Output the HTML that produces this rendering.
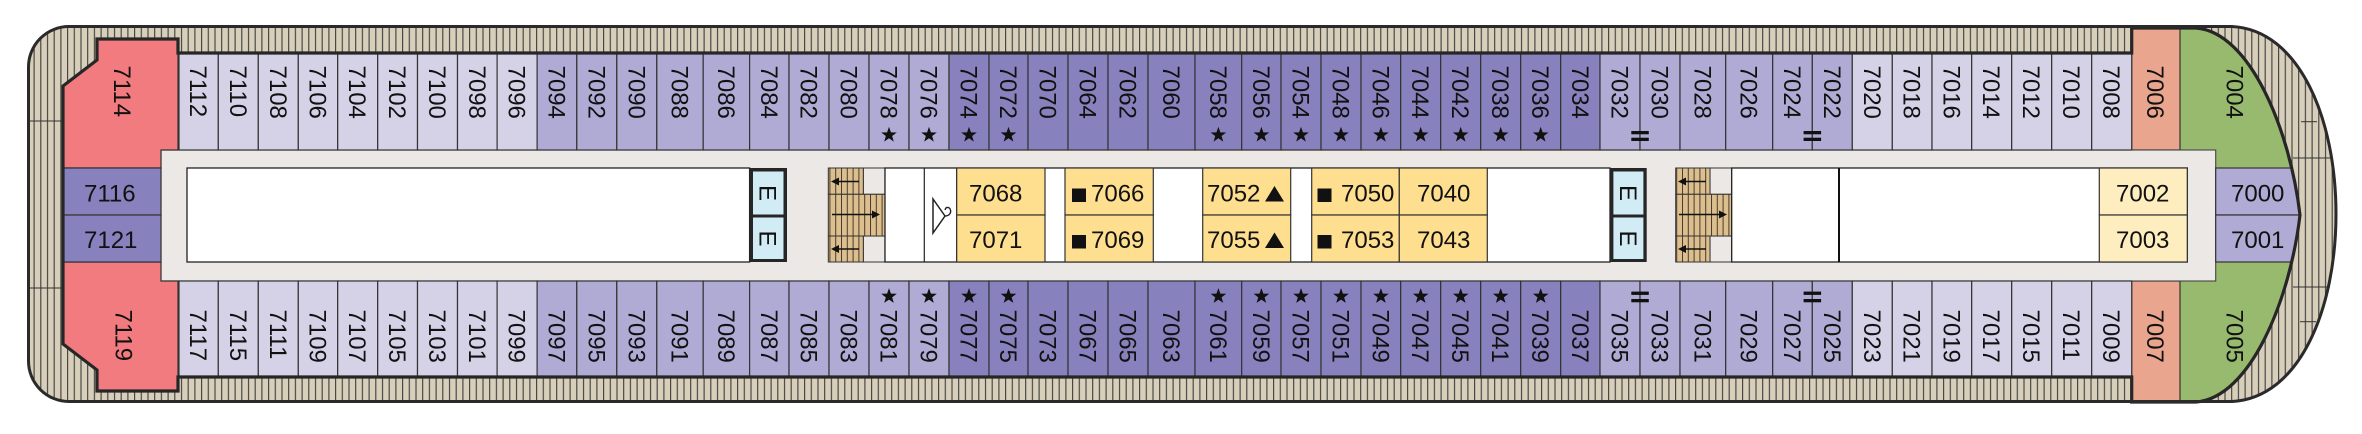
<!DOCTYPE html>
<html><head><meta charset="utf-8"><style>
html,body{margin:0;padding:0;background:#fff;}
svg{display:block;}
text{font-family:"Liberation Sans",Arial,Helvetica,sans-serif;font-size:24px;fill:#111;}
.c{stroke:#333;stroke-width:1.2;}
.L{fill:#d5d1e7;}.M{fill:#afabd5;}.D{fill:#8782bd;}
.st{fill:#111;}
.w{fill:#fff;stroke:#222;stroke-width:1.3;}
.y{fill:#fedf8f;stroke:#333;stroke-width:1.2;}
.py{fill:#fdedbf;stroke:#333;stroke-width:1.2;}
.g{fill:#ece8e5;stroke:#444;stroke-width:1.1;}
.tn{fill:url(#tan);stroke:#333;stroke-width:1;}
</style></head><body>
<svg width="2362" height="434" viewBox="0 0 2362 434" xmlns="http://www.w3.org/2000/svg">
<defs>
<pattern id="hatch" patternUnits="userSpaceOnUse" width="6.7" height="20">
<rect width="6.7" height="20" fill="#d8cfbb"/>
<line x1="0.6" y1="0" x2="0.6" y2="20" stroke="#3c3c3c" stroke-width="1.1"/>
</pattern>
<pattern id="tan" patternUnits="userSpaceOnUse" width="5.8" height="20">
<rect width="5.8" height="20" fill="#dcbf8f"/>
<line x1="0.5" y1="0" x2="0.5" y2="20" stroke="#4a3a2a" stroke-width="1"/>
</pattern>
<clipPath id="ip"><path d="M63,86 L97,60 L97,39 L178,39 L178,53 L2131.7,53 L2131.7,28 L2196,28 C2250,32 2290,130 2300,215 C2290,300 2250,398 2196,402 L2131.7,402 L2131.7,377 L178,377 L178,391 L97,391 L97,370 L63,344 Z"/></clipPath>
</defs>

<!-- hull -->
<path d="M69,26.5 L2232,26.5 C2300,30 2336,120 2336,214 C2336,308 2300,398 2232,401.5 L69,401.5 A40.5,40.5 0 0 1 28.5,361 L28.5,67 A40.5,40.5 0 0 1 69,26.5 Z" fill="url(#hatch)"/>
<g stroke="#333" stroke-width="1">
<line x1="29" y1="121" x2="63" y2="121"/><line x1="29" y1="288" x2="63" y2="288"/>
<line x1="2301" y1="121.7" x2="2317" y2="121.7"/><line x1="2293" y1="158" x2="2330" y2="158"/>
<line x1="2293" y1="287" x2="2330" y2="287"/><line x1="2300" y1="321.7" x2="2316" y2="321.7"/>
</g>

<g clip-path="url(#ip)">
<rect x="0" y="0" width="2362" height="434" fill="#ece8e5"/>
<rect x="2180" y="0" width="200" height="434" fill="#98ba6f"/>
<rect x="2131.7" y="20" width="48.3" height="130" fill="#e9a58e" class="c"/>
<rect x="2131.7" y="281" width="48.3" height="130" fill="#e9a58e" class="c"/>
<!-- corridor -->
<rect x="161" y="150" width="2054.7" height="131" class="g"/>
<rect x="2215.7" y="168" width="130" height="47" class="c M"/>
<rect x="2215.7" y="215" width="130" height="47" class="c M"/>
<!-- stern rooms -->
<polygon points="63,86 97,60 97,39 178,39 178,150 161,150 161,168 63,168" fill="#f27b7f" class="c"/>
<polygon points="63,344 97,370 97,391 178,391 178,281 161,281 161,262 63,262" fill="#f27b7f" class="c"/>
<rect x="63" y="168" width="98" height="47" class="c D"/>
<rect x="63" y="215" width="98" height="47" class="c D"/>

<!-- top cabins -->
<g class="c">
<rect x="179" y="53" width="39.3" height="97" class="L"/>
<rect x="218.3" y="53" width="40" height="97" class="L"/>
<rect x="258.3" y="53" width="40" height="97" class="L"/>
<rect x="298.3" y="53" width="39.4" height="97" class="L"/>
<rect x="337.7" y="53" width="40" height="97" class="L"/>
<rect x="377.7" y="53" width="39.8" height="97" class="L"/>
<rect x="417.5" y="53" width="40" height="97" class="L"/>
<rect x="457.5" y="53" width="39.6" height="97" class="L"/>
<rect x="497.1" y="53" width="40" height="97" class="L"/>
<rect x="537.1" y="53" width="39.7" height="97" class="M"/>
<rect x="576.8" y="53" width="40" height="97" class="M"/>
<rect x="616.8" y="53" width="40" height="97" class="M"/>
<rect x="656.8" y="53" width="46.4" height="97" class="M"/>
<rect x="703.2" y="53" width="46.4" height="97" class="M"/>
<rect x="749.6" y="53" width="39.4" height="97" class="M"/>
<rect x="789" y="53" width="40" height="97" class="M"/>
<rect x="829" y="53" width="40" height="97" class="M"/>
<rect x="869" y="53" width="40" height="97" class="M"/>
<rect x="909" y="53" width="40" height="97" class="M"/>
<rect x="949" y="53" width="40" height="97" class="D"/>
<rect x="989" y="53" width="39" height="97" class="D"/>
<rect x="1028" y="53" width="40" height="97" class="D"/>
<rect x="1068" y="53" width="40" height="97" class="D"/>
<rect x="1108" y="53" width="40" height="97" class="D"/>
<rect x="1148" y="53" width="47" height="97" class="D"/>
<rect x="1195" y="53" width="46.7" height="97" class="D"/>
<rect x="1241.7" y="53" width="39.3" height="97" class="D"/>
<rect x="1281" y="53" width="40" height="97" class="D"/>
<rect x="1321" y="53" width="40" height="97" class="D"/>
<rect x="1361" y="53" width="39.7" height="97" class="D"/>
<rect x="1400.7" y="53" width="40" height="97" class="D"/>
<rect x="1440.7" y="53" width="40" height="97" class="D"/>
<rect x="1480.7" y="53" width="40" height="97" class="D"/>
<rect x="1520.7" y="53" width="40" height="97" class="D"/>
<rect x="1560.7" y="53" width="39.3" height="97" class="D"/>
<rect x="1600" y="53" width="40" height="97" class="M"/>
<rect x="1640" y="53" width="40" height="97" class="M"/>
<rect x="1680" y="53" width="45.7" height="97" class="M"/>
<rect x="1725.7" y="53" width="47" height="97" class="M"/>
<rect x="1772.7" y="53" width="39.6" height="97" class="M"/>
<rect x="1812.3" y="53" width="40" height="97" class="M"/>
<rect x="1852.3" y="53" width="40" height="97" class="L"/>
<rect x="1892.3" y="53" width="39.7" height="97" class="L"/>
<rect x="1932" y="53" width="39.7" height="97" class="L"/>
<rect x="1971.7" y="53" width="40" height="97" class="L"/>
<rect x="2011.7" y="53" width="40" height="97" class="L"/>
<rect x="2051.7" y="53" width="40" height="97" class="L"/>
<rect x="2091.7" y="53" width="40" height="97" class="L"/>
</g>
<!-- bottom cabins -->
<g class="c">
<rect x="179" y="281" width="39.3" height="96" class="L"/>
<rect x="218.3" y="281" width="40" height="96" class="L"/>
<rect x="258.3" y="281" width="40" height="96" class="L"/>
<rect x="298.3" y="281" width="39.4" height="96" class="L"/>
<rect x="337.7" y="281" width="40" height="96" class="L"/>
<rect x="377.7" y="281" width="39.8" height="96" class="L"/>
<rect x="417.5" y="281" width="40" height="96" class="L"/>
<rect x="457.5" y="281" width="39.6" height="96" class="L"/>
<rect x="497.1" y="281" width="40" height="96" class="L"/>
<rect x="537.1" y="281" width="39.7" height="96" class="M"/>
<rect x="576.8" y="281" width="40" height="96" class="M"/>
<rect x="616.8" y="281" width="40" height="96" class="M"/>
<rect x="656.8" y="281" width="46.4" height="96" class="M"/>
<rect x="703.2" y="281" width="46.4" height="96" class="M"/>
<rect x="749.6" y="281" width="39.4" height="96" class="M"/>
<rect x="789" y="281" width="40" height="96" class="M"/>
<rect x="829" y="281" width="40" height="96" class="M"/>
<rect x="869" y="281" width="40" height="96" class="M"/>
<rect x="909" y="281" width="40" height="96" class="M"/>
<rect x="949" y="281" width="40" height="96" class="D"/>
<rect x="989" y="281" width="39" height="96" class="D"/>
<rect x="1028" y="281" width="40" height="96" class="D"/>
<rect x="1068" y="281" width="40" height="96" class="D"/>
<rect x="1108" y="281" width="40" height="96" class="D"/>
<rect x="1148" y="281" width="47" height="96" class="D"/>
<rect x="1195" y="281" width="46.7" height="96" class="D"/>
<rect x="1241.7" y="281" width="39.3" height="96" class="D"/>
<rect x="1281" y="281" width="40" height="96" class="D"/>
<rect x="1321" y="281" width="40" height="96" class="D"/>
<rect x="1361" y="281" width="39.7" height="96" class="D"/>
<rect x="1400.7" y="281" width="40" height="96" class="D"/>
<rect x="1440.7" y="281" width="40" height="96" class="D"/>
<rect x="1480.7" y="281" width="40" height="96" class="D"/>
<rect x="1520.7" y="281" width="40" height="96" class="D"/>
<rect x="1560.7" y="281" width="39.3" height="96" class="D"/>
<rect x="1600" y="281" width="40" height="96" class="M"/>
<rect x="1640" y="281" width="40" height="96" class="M"/>
<rect x="1680" y="281" width="45.7" height="96" class="M"/>
<rect x="1725.7" y="281" width="47" height="96" class="M"/>
<rect x="1772.7" y="281" width="39.6" height="96" class="M"/>
<rect x="1812.3" y="281" width="40" height="96" class="M"/>
<rect x="1852.3" y="281" width="40" height="96" class="L"/>
<rect x="1892.3" y="281" width="39.7" height="96" class="L"/>
<rect x="1932" y="281" width="39.7" height="96" class="L"/>
<rect x="1971.7" y="281" width="40" height="96" class="L"/>
<rect x="2011.7" y="281" width="40" height="96" class="L"/>
<rect x="2051.7" y="281" width="40" height="96" class="L"/>
<rect x="2091.7" y="281" width="40" height="96" class="L"/>
</g>
</g>

<!-- inner blocks -->
<rect x="187" y="168" width="562.6" height="94" class="w"/>
<!-- elevator 1 -->
<rect x="749.6" y="168" width="37.4" height="94" fill="#262626"/>
<rect x="753" y="171.5" width="30.5" height="43" fill="#d2ecf6"/>
<rect x="753" y="217.5" width="30.5" height="41.5" fill="#d2ecf6"/>
<!-- stairs 1 -->
<rect x="863.3" y="168" width="21.7" height="26.3" class="g"/>
<rect x="863.3" y="236" width="21.7" height="26" class="g"/>
<rect x="828.3" y="168" width="35" height="26.3" class="tn"/>
<rect x="828.3" y="194.3" width="56.7" height="41.7" class="tn"/>
<rect x="828.3" y="236" width="35" height="26" class="tn"/>
<g stroke="#111" stroke-width="1.6">
<line x1="859" y1="181.5" x2="836" y2="181.5"/>
<line x1="832" y1="214.5" x2="873" y2="214.5"/>
<line x1="859" y1="249" x2="836" y2="249"/>
</g>
<g fill="#111">
<polygon points="831,181.5 839,177.5 839,185.5"/>
<polygon points="880,214.5 872,210.5 872,218.5"/>
<polygon points="831,249 839,245 839,253"/>
</g>
<!-- segment B -->
<rect x="885" y="168" width="725" height="94" class="w" stroke-width="1.6"/>
<line x1="924.3" y1="168" x2="924.3" y2="262" stroke="#222" stroke-width="1.2"/>
<line x1="956.7" y1="168" x2="956.7" y2="262" stroke="#222" stroke-width="1.2"/>
<rect x="956.7" y="168" width="88.3" height="47" class="y"/>
<rect x="956.7" y="215" width="88.3" height="47" class="y"/>
<rect x="1065" y="168" width="88.3" height="47" class="y"/>
<rect x="1065" y="215" width="88.3" height="47" class="y"/>
<rect x="1202.7" y="168" width="88" height="47" class="y"/>
<rect x="1202.7" y="215" width="88" height="47" class="y"/>
<rect x="1311.7" y="168" width="87.6" height="47" class="y"/>
<rect x="1311.7" y="215" width="87.6" height="47" class="y"/>
<rect x="1399.3" y="168" width="88" height="47" class="y"/>
<rect x="1399.3" y="215" width="88" height="47" class="y"/>
<!-- hanger -->
<path d="M945,216 L933,199 L933,233 Z" fill="none" stroke="#222" stroke-width="1.5"/>
<path d="M945,216 C949.5,216 951.5,212.5 950.3,209.5 C949,206.5 945,207 945.3,210" fill="none" stroke="#222" stroke-width="1.4"/>
<!-- elevator 2 -->
<rect x="1610" y="168" width="36.7" height="94" fill="#262626"/>
<rect x="1613.4" y="171.5" width="30" height="43" fill="#d2ecf6"/>
<rect x="1613.4" y="217.5" width="30" height="41.5" fill="#d2ecf6"/>
<!-- stairs 2 -->
<rect x="1710" y="168" width="21.7" height="26.3" class="g"/>
<rect x="1710" y="236" width="21.7" height="26" class="g"/>
<rect x="1675.7" y="168" width="34.3" height="26.3" class="tn"/>
<rect x="1675.7" y="194.3" width="56" height="41.7" class="tn"/>
<rect x="1675.7" y="236" width="34.3" height="26" class="tn"/>
<g stroke="#111" stroke-width="1.6">
<line x1="1706" y1="181.5" x2="1683" y2="181.5"/>
<line x1="1679" y1="214.5" x2="1720" y2="214.5"/>
<line x1="1706" y1="249" x2="1683" y2="249"/>
</g>
<g fill="#111">
<polygon points="1678,181.5 1686,177.5 1686,185.5"/>
<polygon points="1727,214.5 1719,210.5 1719,218.5"/>
<polygon points="1678,249 1686,245 1686,253"/>
</g>
<!-- segment C -->
<rect x="1731.7" y="168" width="455.6" height="94" class="w"/>
<line x1="1839" y1="168" x2="1839" y2="262" stroke="#111" stroke-width="2"/>
<rect x="2099.3" y="168" width="88" height="47" class="py"/>
<rect x="2099.3" y="215" width="88" height="47" class="py"/>

<!-- interior outline -->
<path d="M63,86 L97,60 L97,39 L178,39 L178,53 L2131.7,53 L2131.7,28 L2196,28 C2250,32 2290,130 2300,215 C2290,300 2250,398 2196,402 L2131.7,402 L2131.7,377 L178,377 L178,391 L97,391 L97,370 L63,344 Z" fill="none" stroke="#262626" stroke-width="3.2" stroke-linejoin="miter"/>
<!-- hull outline -->
<path d="M69,26.5 L2232,26.5 C2300,30 2336,120 2336,214 C2336,308 2300,398 2232,401.5 L69,401.5 A40.5,40.5 0 0 1 28.5,361 L28.5,67 A40.5,40.5 0 0 1 69,26.5 Z" fill="none" stroke="#2a2a2a" stroke-width="3"/>

<!-- connecting door marks -->
<g fill="#111">
<rect x="1631.3" y="131" width="17.5" height="3.3"/><rect x="1631.3" y="137.7" width="17.5" height="3.3"/>
<rect x="1803.6" y="131" width="17.5" height="3.3"/><rect x="1803.6" y="137.7" width="17.5" height="3.3"/>
<rect x="1631.3" y="291.6" width="17.5" height="3.3"/><rect x="1631.3" y="299" width="17.5" height="3.3"/>
<rect x="1803.6" y="291.6" width="17.5" height="3.3"/><rect x="1803.6" y="299" width="17.5" height="3.3"/>
</g>

<!-- top labels -->
<g>
<text transform="translate(114,65.5) rotate(90)">7114</text>
<text transform="translate(190.2,65.5) rotate(90)">7112</text>
<text transform="translate(229.8,65.5) rotate(90)">7110</text>
<text transform="translate(269.8,65.5) rotate(90)">7108</text>
<text transform="translate(309.5,65.5) rotate(90)">7106</text>
<text transform="translate(349.2,65.5) rotate(90)">7104</text>
<text transform="translate(389.1,65.5) rotate(90)">7102</text>
<text transform="translate(429,65.5) rotate(90)">7100</text>
<text transform="translate(468.8,65.5) rotate(90)">7098</text>
<text transform="translate(508.6,65.5) rotate(90)">7096</text>
<text transform="translate(548.5,65.5) rotate(90)">7094</text>
<text transform="translate(588.3,65.5) rotate(90)">7092</text>
<text transform="translate(628.3,65.5) rotate(90)">7090</text>
<text transform="translate(671.5,65.5) rotate(90)">7088</text>
<text transform="translate(717.9,65.5) rotate(90)">7086</text>
<text transform="translate(760.8,65.5) rotate(90)">7084</text>
<text transform="translate(800.5,65.5) rotate(90)">7082</text>
<text transform="translate(840.5,65.5) rotate(90)">7080</text>
<text transform="translate(880.5,65.5) rotate(90)">7078</text>
<text transform="translate(920.5,65.5) rotate(90)">7076</text>
<text transform="translate(960.5,65.5) rotate(90)">7074</text>
<text transform="translate(1000,65.5) rotate(90)">7072</text>
<text transform="translate(1039.5,65.5) rotate(90)">7070</text>
<text transform="translate(1079.5,65.5) rotate(90)">7064</text>
<text transform="translate(1119.5,65.5) rotate(90)">7062</text>
<text transform="translate(1163,65.5) rotate(90)">7060</text>
<text transform="translate(1209.9,65.5) rotate(90)">7058</text>
<text transform="translate(1252.9,65.5) rotate(90)">7056</text>
<text transform="translate(1292.5,65.5) rotate(90)">7054</text>
<text transform="translate(1332.5,65.5) rotate(90)">7048</text>
<text transform="translate(1372.4,65.5) rotate(90)">7046</text>
<text transform="translate(1412.2,65.5) rotate(90)">7044</text>
<text transform="translate(1452.2,65.5) rotate(90)">7042</text>
<text transform="translate(1492.2,65.5) rotate(90)">7038</text>
<text transform="translate(1532.2,65.5) rotate(90)">7036</text>
<text transform="translate(1571.9,65.5) rotate(90)">7034</text>
<text transform="translate(1611.5,65.5) rotate(90)">7032</text>
<text transform="translate(1651.5,65.5) rotate(90)">7030</text>
<text transform="translate(1694.4,65.5) rotate(90)">7028</text>
<text transform="translate(1740.7,65.5) rotate(90)">7026</text>
<text transform="translate(1784,65.5) rotate(90)">7024</text>
<text transform="translate(1823.8,65.5) rotate(90)">7022</text>
<text transform="translate(1863.8,65.5) rotate(90)">7020</text>
<text transform="translate(1903.7,65.5) rotate(90)">7018</text>
<text transform="translate(1943.4,65.5) rotate(90)">7016</text>
<text transform="translate(1983.2,65.5) rotate(90)">7014</text>
<text transform="translate(2023.2,65.5) rotate(90)">7012</text>
<text transform="translate(2063.2,65.5) rotate(90)">7010</text>
<text transform="translate(2103.2,65.5) rotate(90)">7008</text>
<text transform="translate(2147,65.5) rotate(90)">7006</text>
<text transform="translate(2226.5,65.5) rotate(90)">7004</text>
</g>
<!-- bottom labels -->
<g>
<text transform="translate(115.5,309.5) rotate(90)">7119</text>
<text transform="translate(190.2,309.5) rotate(90)">7117</text>
<text transform="translate(229.8,309.5) rotate(90)">7115</text>
<text transform="translate(269.8,309.5) rotate(90)">7111</text>
<text transform="translate(309.5,309.5) rotate(90)">7109</text>
<text transform="translate(349.2,309.5) rotate(90)">7107</text>
<text transform="translate(389.1,309.5) rotate(90)">7105</text>
<text transform="translate(429,309.5) rotate(90)">7103</text>
<text transform="translate(468.8,309.5) rotate(90)">7101</text>
<text transform="translate(508.6,309.5) rotate(90)">7099</text>
<text transform="translate(548.5,309.5) rotate(90)">7097</text>
<text transform="translate(588.3,309.5) rotate(90)">7095</text>
<text transform="translate(628.3,309.5) rotate(90)">7093</text>
<text transform="translate(671.5,309.5) rotate(90)">7091</text>
<text transform="translate(717.9,309.5) rotate(90)">7089</text>
<text transform="translate(760.8,309.5) rotate(90)">7087</text>
<text transform="translate(800.5,309.5) rotate(90)">7085</text>
<text transform="translate(840.5,309.5) rotate(90)">7083</text>
<text transform="translate(880.5,309.5) rotate(90)">7081</text>
<text transform="translate(920.5,309.5) rotate(90)">7079</text>
<text transform="translate(960.5,309.5) rotate(90)">7077</text>
<text transform="translate(1000,309.5) rotate(90)">7075</text>
<text transform="translate(1039.5,309.5) rotate(90)">7073</text>
<text transform="translate(1079.5,309.5) rotate(90)">7067</text>
<text transform="translate(1119.5,309.5) rotate(90)">7065</text>
<text transform="translate(1163,309.5) rotate(90)">7063</text>
<text transform="translate(1209.9,309.5) rotate(90)">7061</text>
<text transform="translate(1252.9,309.5) rotate(90)">7059</text>
<text transform="translate(1292.5,309.5) rotate(90)">7057</text>
<text transform="translate(1332.5,309.5) rotate(90)">7051</text>
<text transform="translate(1372.4,309.5) rotate(90)">7049</text>
<text transform="translate(1412.2,309.5) rotate(90)">7047</text>
<text transform="translate(1452.2,309.5) rotate(90)">7045</text>
<text transform="translate(1492.2,309.5) rotate(90)">7041</text>
<text transform="translate(1532.2,309.5) rotate(90)">7039</text>
<text transform="translate(1571.9,309.5) rotate(90)">7037</text>
<text transform="translate(1611.5,309.5) rotate(90)">7035</text>
<text transform="translate(1651.5,309.5) rotate(90)">7033</text>
<text transform="translate(1694.4,309.5) rotate(90)">7031</text>
<text transform="translate(1740.7,309.5) rotate(90)">7029</text>
<text transform="translate(1784,309.5) rotate(90)">7027</text>
<text transform="translate(1823.8,309.5) rotate(90)">7025</text>
<text transform="translate(1863.8,309.5) rotate(90)">7023</text>
<text transform="translate(1903.7,309.5) rotate(90)">7021</text>
<text transform="translate(1943.4,309.5) rotate(90)">7019</text>
<text transform="translate(1983.2,309.5) rotate(90)">7017</text>
<text transform="translate(2023.2,309.5) rotate(90)">7015</text>
<text transform="translate(2063.2,309.5) rotate(90)">7011</text>
<text transform="translate(2103.2,309.5) rotate(90)">7009</text>
<text transform="translate(2147,309.5) rotate(90)">7007</text>
<text transform="translate(2226.5,309.5) rotate(90)">7005</text>
</g>
<!-- E labels -->
<text transform="translate(759.6,193) rotate(90)" text-anchor="middle">E</text>
<text transform="translate(759.6,238.5) rotate(90)" text-anchor="middle">E</text>
<text transform="translate(1619.8,193) rotate(90)" text-anchor="middle">E</text>
<text transform="translate(1619.8,238.5) rotate(90)" text-anchor="middle">E</text>

<!-- horizontal labels -->
<text x="84" y="201.5">7116</text>
<text x="84" y="248">7121</text>
<text x="969" y="201.5">7068</text>
<text x="969" y="248">7071</text>
<text x="1091" y="201.5">7066</text>
<text x="1091" y="248">7069</text>
<text x="1207" y="201.5">7052</text>
<text x="1207" y="248">7055</text>
<text x="1341" y="201.5">7050</text>
<text x="1341" y="248">7053</text>
<text x="1417" y="201.5">7040</text>
<text x="1417" y="248">7043</text>
<text x="2116" y="201.5">7002</text>
<text x="2116" y="248">7003</text>
<text x="2231" y="201.5">7000</text>
<text x="2231" y="248">7001</text>
<g fill="#111">
<rect x="1072" y="188.5" width="14" height="13.5"/>
<rect x="1072" y="235" width="14" height="13.5"/>
<rect x="1317.5" y="188.5" width="14" height="13.5"/>
<rect x="1317.5" y="235" width="14" height="13.5"/>
<polygon points="1265,201.5 1284,201.5 1274.5,186"/>
<polygon points="1265,248 1284,248 1274.5,232.5"/>
</g>

<!-- stars -->
<g class="st">
<path transform="translate(889,135)" d="M0,-8.2L1.94,-2.67 7.8,-2.53 3.14,1.02 4.82,6.63 0,3.3-4.82,6.63-3.14,1.02-7.8,-2.53-1.94,-2.67Z"/>
<path transform="translate(929,135)" d="M0,-8.2L1.94,-2.67 7.8,-2.53 3.14,1.02 4.82,6.63 0,3.3-4.82,6.63-3.14,1.02-7.8,-2.53-1.94,-2.67Z"/>
<path transform="translate(969,135)" d="M0,-8.2L1.94,-2.67 7.8,-2.53 3.14,1.02 4.82,6.63 0,3.3-4.82,6.63-3.14,1.02-7.8,-2.53-1.94,-2.67Z"/>
<path transform="translate(1008.5,135)" d="M0,-8.2L1.94,-2.67 7.8,-2.53 3.14,1.02 4.82,6.63 0,3.3-4.82,6.63-3.14,1.02-7.8,-2.53-1.94,-2.67Z"/>
<path transform="translate(1218.4,135)" d="M0,-8.2L1.94,-2.67 7.8,-2.53 3.14,1.02 4.82,6.63 0,3.3-4.82,6.63-3.14,1.02-7.8,-2.53-1.94,-2.67Z"/>
<path transform="translate(1261.4,135)" d="M0,-8.2L1.94,-2.67 7.8,-2.53 3.14,1.02 4.82,6.63 0,3.3-4.82,6.63-3.14,1.02-7.8,-2.53-1.94,-2.67Z"/>
<path transform="translate(1301,135)" d="M0,-8.2L1.94,-2.67 7.8,-2.53 3.14,1.02 4.82,6.63 0,3.3-4.82,6.63-3.14,1.02-7.8,-2.53-1.94,-2.67Z"/>
<path transform="translate(1341,135)" d="M0,-8.2L1.94,-2.67 7.8,-2.53 3.14,1.02 4.82,6.63 0,3.3-4.82,6.63-3.14,1.02-7.8,-2.53-1.94,-2.67Z"/>
<path transform="translate(1380.9,135)" d="M0,-8.2L1.94,-2.67 7.8,-2.53 3.14,1.02 4.82,6.63 0,3.3-4.82,6.63-3.14,1.02-7.8,-2.53-1.94,-2.67Z"/>
<path transform="translate(1420.7,135)" d="M0,-8.2L1.94,-2.67 7.8,-2.53 3.14,1.02 4.82,6.63 0,3.3-4.82,6.63-3.14,1.02-7.8,-2.53-1.94,-2.67Z"/>
<path transform="translate(1460.7,135)" d="M0,-8.2L1.94,-2.67 7.8,-2.53 3.14,1.02 4.82,6.63 0,3.3-4.82,6.63-3.14,1.02-7.8,-2.53-1.94,-2.67Z"/>
<path transform="translate(1500.7,135)" d="M0,-8.2L1.94,-2.67 7.8,-2.53 3.14,1.02 4.82,6.63 0,3.3-4.82,6.63-3.14,1.02-7.8,-2.53-1.94,-2.67Z"/>
<path transform="translate(1540.7,135)" d="M0,-8.2L1.94,-2.67 7.8,-2.53 3.14,1.02 4.82,6.63 0,3.3-4.82,6.63-3.14,1.02-7.8,-2.53-1.94,-2.67Z"/>

<path transform="translate(889,296.3)" d="M0,-8.2L1.94,-2.67 7.8,-2.53 3.14,1.02 4.82,6.63 0,3.3-4.82,6.63-3.14,1.02-7.8,-2.53-1.94,-2.67Z"/>
<path transform="translate(929,296.3)" d="M0,-8.2L1.94,-2.67 7.8,-2.53 3.14,1.02 4.82,6.63 0,3.3-4.82,6.63-3.14,1.02-7.8,-2.53-1.94,-2.67Z"/>
<path transform="translate(969,296.3)" d="M0,-8.2L1.94,-2.67 7.8,-2.53 3.14,1.02 4.82,6.63 0,3.3-4.82,6.63-3.14,1.02-7.8,-2.53-1.94,-2.67Z"/>
<path transform="translate(1008.5,296.3)" d="M0,-8.2L1.94,-2.67 7.8,-2.53 3.14,1.02 4.82,6.63 0,3.3-4.82,6.63-3.14,1.02-7.8,-2.53-1.94,-2.67Z"/>
<path transform="translate(1218.4,296.3)" d="M0,-8.2L1.94,-2.67 7.8,-2.53 3.14,1.02 4.82,6.63 0,3.3-4.82,6.63-3.14,1.02-7.8,-2.53-1.94,-2.67Z"/>
<path transform="translate(1261.4,296.3)" d="M0,-8.2L1.94,-2.67 7.8,-2.53 3.14,1.02 4.82,6.63 0,3.3-4.82,6.63-3.14,1.02-7.8,-2.53-1.94,-2.67Z"/>
<path transform="translate(1301,296.3)" d="M0,-8.2L1.94,-2.67 7.8,-2.53 3.14,1.02 4.82,6.63 0,3.3-4.82,6.63-3.14,1.02-7.8,-2.53-1.94,-2.67Z"/>
<path transform="translate(1341,296.3)" d="M0,-8.2L1.94,-2.67 7.8,-2.53 3.14,1.02 4.82,6.63 0,3.3-4.82,6.63-3.14,1.02-7.8,-2.53-1.94,-2.67Z"/>
<path transform="translate(1380.9,296.3)" d="M0,-8.2L1.94,-2.67 7.8,-2.53 3.14,1.02 4.82,6.63 0,3.3-4.82,6.63-3.14,1.02-7.8,-2.53-1.94,-2.67Z"/>
<path transform="translate(1420.7,296.3)" d="M0,-8.2L1.94,-2.67 7.8,-2.53 3.14,1.02 4.82,6.63 0,3.3-4.82,6.63-3.14,1.02-7.8,-2.53-1.94,-2.67Z"/>
<path transform="translate(1460.7,296.3)" d="M0,-8.2L1.94,-2.67 7.8,-2.53 3.14,1.02 4.82,6.63 0,3.3-4.82,6.63-3.14,1.02-7.8,-2.53-1.94,-2.67Z"/>
<path transform="translate(1500.7,296.3)" d="M0,-8.2L1.94,-2.67 7.8,-2.53 3.14,1.02 4.82,6.63 0,3.3-4.82,6.63-3.14,1.02-7.8,-2.53-1.94,-2.67Z"/>
<path transform="translate(1540.7,296.3)" d="M0,-8.2L1.94,-2.67 7.8,-2.53 3.14,1.02 4.82,6.63 0,3.3-4.82,6.63-3.14,1.02-7.8,-2.53-1.94,-2.67Z"/>
</g>
</svg>
</body></html>
